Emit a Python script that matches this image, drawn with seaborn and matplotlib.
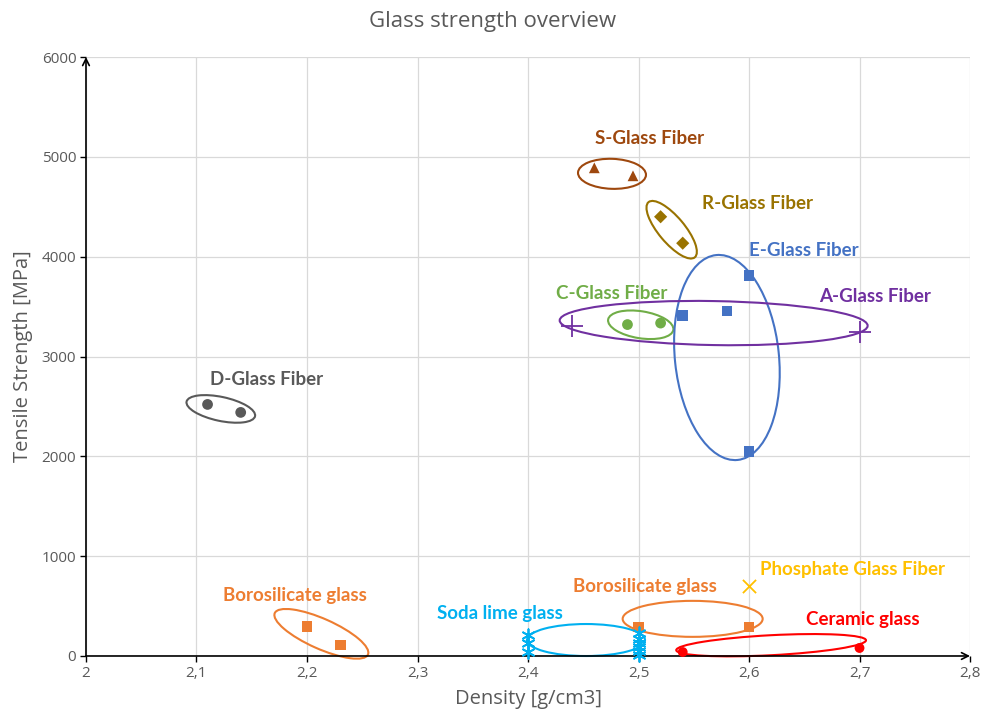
import numpy as np
import pandas as pd
import matplotlib
matplotlib.use("Agg")
import matplotlib.pyplot as plt
import matplotlib.transforms as mtransforms
from matplotlib.patches import Ellipse
from matplotlib.ticker import FuncFormatter, MultipleLocator
import seaborn as sns

# --- data ---
d_density = [2.11, 2.14]
d_strength = [2520, 2440]
s_density = [2.46, 2.495]
s_strength = [4890, 4810]
r_density = [2.52, 2.54]
r_strength = [4400, 4135]
c_density = [2.49, 2.52]
c_strength = [3320, 3335]
e_density = [2.54, 2.58, 2.60, 2.60]
e_strength = [3410, 3455, 3810, 2050]
a_density = [2.44, 2.70]
a_strength = [3310, 3250]
boro_density = [2.20, 2.23, 2.50, 2.60]
boro_strength = [295, 110, 290, 290]
soda_density = [2.40, 2.40, 2.40, 2.50, 2.50, 2.50, 2.50, 2.50, 2.50]
soda_strength = [210, 130, 40, 230, 170, 130, 90, 50, 10]
phos_density = [2.60]
phos_strength = [700]
ceramic_density = [2.54, 2.70]
ceramic_strength = [40, 80]

groups = {
    "D-Glass Fiber": (d_density, d_strength),
    "S-Glass Fiber": (s_density, s_strength),
    "R-Glass Fiber": (r_density, r_strength),
    "C-Glass Fiber": (c_density, c_strength),
    "E-Glass Fiber": (e_density, e_strength),
    "A-Glass Fiber": (a_density, a_strength),
    "Borosilicate glass": (boro_density, boro_strength),
    "Soda lime glass": (soda_density, soda_strength),
    "Phosphate Glass Fiber": (phos_density, phos_strength),
    "Ceramic glass": (ceramic_density, ceramic_strength),
}

colors = {
    "D-Glass Fiber": "#595959",
    "S-Glass Fiber": "#9E480E",
    "R-Glass Fiber": "#997300",
    "C-Glass Fiber": "#70AD47",
    "E-Glass Fiber": "#4472C4",
    "A-Glass Fiber": "#7030A0",
    "Borosilicate glass": "#ED7D31",
    "Soda lime glass": "#00B0F0",
    "Phosphate Glass Fiber": "#FFC000",
    "Ceramic glass": "#FF0000",
}
markers = {
    "D-Glass Fiber": "o",
    "S-Glass Fiber": "^",
    "R-Glass Fiber": "D",
    "C-Glass Fiber": "o",
    "E-Glass Fiber": "s",
    "A-Glass Fiber": "+",
    "Borosilicate glass": "s",
    "Soda lime glass": (6, 2, 0),
    "Phosphate Glass Fiber": "x",
    "Ceramic glass": "o",
}
sizes = {
    "D-Glass Fiber": 60, "S-Glass Fiber": 60, "R-Glass Fiber": 45,
    "C-Glass Fiber": 60, "E-Glass Fiber": 60, "A-Glass Fiber": 260,
    "Borosilicate glass": 60, "Soda lime glass": 80,
    "Phosphate Glass Fiber": 90, "Ceramic glass": 50,
}

# ellipse annotations: centre in data units, size in pixels, angle in degrees
ellipses = [
    (2.122, 2475, 70, 24, -12, "#595959"),
    (2.476, 4830, 68, 30, -2, "#9E480E"),
    (2.530, 4270, 72, 26, -50, "#997300"),
    (2.502, 3318, 66, 27, -9, "#70AD47"),
    (2.580, 2990, 206, 104, 96, "#4472C4"),
    (2.568, 3335, 308, 44, -1, "#7030A0"),
    (2.213, 222, 102, 30, -24, "#ED7D31"),
    (2.4525, 160, 118, 32, 0, "#00B0F0"),
    (2.549, 372, 140, 36, 0, "#ED7D31"),
    (2.620, 108, 190, 20, 3, "#FF0000"),
]

labels = [
    ("S-Glass Fiber", 2.510, 5185, "#9E480E"),
    ("R-Glass Fiber", 2.608, 4530, "#997300"),
    ("E-Glass Fiber", 2.650, 4060, "#4472C4"),
    ("C-Glass Fiber", 2.476, 3630, "#70AD47"),
    ("A-Glass Fiber", 2.714, 3600, "#7030A0"),
    ("D-Glass Fiber", 2.163, 2770, "#595959"),
    ("Borosilicate glass", 2.189, 610, "#ED7D31"),
    ("Soda lime glass", 2.375, 430, "#00B0F0"),
    ("Borosilicate glass", 2.506, 700, "#ED7D31"),
    ("Phosphate Glass Fiber", 2.694, 865, "#FFC000"),
    ("Ceramic glass", 2.703, 370, "#FF0000"),
]

rows = []
for name, (xs, ys) in groups.items():
    for x, y in zip(xs, ys):
        rows.append({"Density": x, "Strength": y, "Material": name})
df = pd.DataFrame(rows)

sns.set_theme(style="white")
plt.rcParams["font.family"] = ["Open Sans", "DejaVu Sans"]

fig = plt.figure(figsize=(9.85, 7.2), dpi=100)
ax = fig.add_axes([0.0873, 0.0889, 0.8975, 0.8319])

for name, sub in df.groupby("Material", sort=False):
    filled = name not in ("A-Glass Fiber", "Phosphate Glass Fiber", "Soda lime glass")
    kw = dict(edgecolor="none") if filled else dict(linewidths=1.3)
    sns.scatterplot(data=sub, x="Density", y="Strength", color=colors[name],
                    marker=markers[name], s=sizes[name], ax=ax, legend=False,
                    clip_on=False, zorder=4, **kw)

for cx, cy, w, h, ang, col in ellipses:
    tr = fig.dpi_scale_trans + mtransforms.ScaledTranslation(cx, cy, ax.transData)
    ax.add_patch(Ellipse((0, 0), w / 100, h / 100, angle=ang, transform=tr,
                         fill=False, edgecolor=col, lw=1.5, zorder=3, clip_on=False))

for text, x, y, col in labels:
    ax.text(x, y, text, color=col, fontsize=13.5, fontweight="bold",
            family=["Lato", "DejaVu Sans"], ha="center", va="center", zorder=5)

ax.set_xlim(2.0, 2.8)
ax.set_ylim(0, 6000)
ax.xaxis.set_major_locator(MultipleLocator(0.1))
ax.yaxis.set_major_locator(MultipleLocator(1000))
ax.xaxis.set_major_formatter(FuncFormatter(lambda v, p: f"{v:.1f}".rstrip("0").rstrip(".").replace(".", ",")))
ax.grid(True, color="#D9D9D9", lw=0.9)
ax.set_axisbelow(True)
for sp in ax.spines.values():
    sp.set_visible(False)
ax.tick_params(axis="both", colors="#595959", labelsize=11, length=4, width=1,
               direction="out", bottom=True, left=True, pad=3)
ax.tick_params(axis="both", color="black")

ax.annotate("", xy=(1.0, 0), xytext=(0, 0), xycoords="axes fraction",
            arrowprops=dict(arrowstyle="->", color="black", lw=1.2, mutation_scale=12,
                            shrinkA=0, shrinkB=0))
ax.annotate("", xy=(0, 1.0), xytext=(0, 0), xycoords="axes fraction",
            arrowprops=dict(arrowstyle="->", color="black", lw=1.2, mutation_scale=12,
                            shrinkA=0, shrinkB=0))

ax.set_xlabel("Density [g/cm3]", color="#595959", fontsize=14.5, labelpad=6)
ax.set_ylabel("Tensile Strength [MPa]", color="#595959", fontsize=14.5, labelpad=6)
fig.suptitle("Glass strength overview", color="#595959", fontsize=16, y=0.985)

fig.savefig("out.png", dpi=100)
